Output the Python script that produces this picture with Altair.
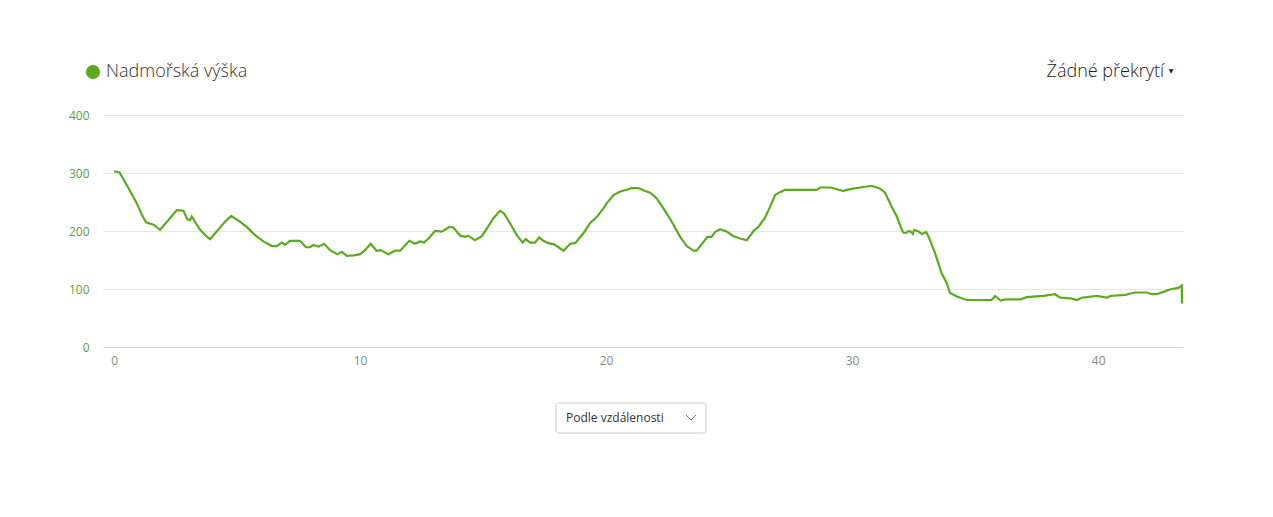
import altair as alt
import pandas as pd

# elevation profile (km, m)
distance_km = [
    0.0, 0.22, 0.52, 0.92, 1.13, 1.30, 1.60, 1.87, 2.21, 2.55, 2.82, 2.98, 3.09, 3.16,
    3.29, 3.50, 3.70, 3.90, 4.17, 4.51, 4.76, 5.12, 5.39, 5.73, 6.07, 6.41, 6.61, 6.82,
    6.95, 7.15, 7.56, 7.80, 7.97, 8.10, 8.31, 8.54, 8.78, 9.08, 9.26, 9.46, 9.75, 10.0,
    10.2, 10.43, 10.67, 10.84, 11.15, 11.42, 11.63, 12.0, 12.24, 12.44, 12.60, 12.78,
    13.05, 13.32, 13.63, 13.79, 14.07, 14.27, 14.40, 14.67, 14.95, 15.15, 15.42, 15.69,
    15.85, 16.10, 16.37, 16.61, 16.73, 16.91, 17.11, 17.28, 17.45, 17.65, 17.89, 18.27,
    18.54, 18.74, 19.08, 19.35, 19.62, 19.89, 20.03, 20.30, 20.57, 20.84, 21.04, 21.31,
    21.59, 21.79, 22.06, 22.33, 22.67, 23.01, 23.28, 23.55, 23.68, 24.12, 24.29, 24.43,
    24.63, 24.90, 25.18, 25.45, 25.72, 25.99, 26.19, 26.46, 26.67, 26.87, 27.07, 27.28,
    28.56, 28.70, 29.11, 29.38, 29.65, 29.78, 30.05, 30.33, 30.80, 31.14, 31.34, 31.61,
    31.82, 32.02, 32.09, 32.22, 32.29, 32.38, 32.47, 32.52, 32.70, 32.83, 33.01, 33.10,
    33.37, 33.64, 33.85, 33.98, 34.26, 34.66, 35.67, 35.81, 36.04, 36.22, 36.83, 37.10,
    37.37, 37.78, 38.25, 38.46, 38.86, 39.13, 39.34, 39.95, 40.35, 40.49, 41.10, 41.50,
    41.98, 42.18, 42.38, 42.65, 42.99, 43.26, 43.40, 43.41,
]
elevation_m = [
    303, 301, 279, 248, 228, 215, 211, 202, 219, 236, 235, 220, 219, 225,
    216, 202, 193, 186, 199, 216, 226, 216, 207, 193, 182, 174, 174, 180,
    176, 183, 183, 172, 172, 176, 173, 178, 167, 160, 164, 157, 158, 160,
    167, 178, 166, 167, 160, 166, 166, 183, 178, 182, 180, 187,
    200, 199, 207, 206, 192, 190, 192, 184, 191, 204, 222, 235,
    230, 213, 193, 180, 186, 180, 180, 189, 183, 179, 177, 166,
    178, 179, 196, 214, 224, 239, 248, 262, 268, 271, 274, 274,
    269, 266, 256, 239, 216, 190, 174, 166, 166, 190, 190, 198,
    203, 199, 191, 187, 184, 200, 207, 223, 242, 262, 267, 271,
    271, 275, 275, 272, 269, 271, 273, 275, 278, 273, 266, 242,
    225, 202, 197, 197, 200, 199, 195, 202, 199, 195, 198, 191,
    162, 127, 110, 93, 87, 81, 81, 88, 80, 82, 82, 86,
    87, 88, 91, 85, 84, 81, 85, 88, 85, 88, 90, 94,
    94, 91, 91, 95, 100, 102, 106, 75,
]
series_name = "Nadmořská výška"
x_ticks = [0, 10, 20, 30, 40]
y_ticks = [0, 100, 200, 300, 400]
overlay_label = "Žádné překrytí"
sort_label = "Podle vzdálenosti"

GREEN = "#5aab1e"
FONT = "Open Sans"

profile = pd.DataFrame(
    {"km": distance_km, "elevation": elevation_m, "series": series_name}
)

line = (
    alt.Chart(profile)
    .mark_line(strokeWidth=2.2, interpolate="linear")
    .encode(
        x=alt.X(
            "km:Q",
            scale=alt.Scale(domain=[-0.45, 43.45], nice=False, zero=False),
            axis=alt.Axis(
                values=x_ticks,
                title=None,
                grid=False,
                ticks=False,
                domainColor="#cfd4d8",
                labelColor="#888888",
                labelFontSize=12,
                labelFont=FONT,
                labelPadding=8,
            ),
        ),
        y=alt.Y(
            "elevation:Q",
            scale=alt.Scale(domain=[0, 400], nice=False),
            axis=alt.Axis(
                values=y_ticks,
                title=None,
                domain=False,
                ticks=False,
                gridColor="#e4e6e8",
                labelColor="#5da232",
                labelFontSize=12,
                labelFont=FONT,
                labelPadding=14,
            ),
        ),
        color=alt.Color(
            "series:N",
            scale=alt.Scale(domain=[series_name], range=[GREEN]),
            legend=alt.Legend(
                title=None,
                orient="none",
                legendX=-19,
                legendY=-52,
                padding=0,
                symbolType="circle",
                symbolSize=200,
                symbolFillColor=GREEN,
                symbolStrokeWidth=0,
                labelFont=FONT,
                labelFontSize=18,
                labelFontWeight=300,
                labelColor="#333333",
                labelOffset=4,
            ),
        ),
    )
)

one_row = pd.DataFrame({"overlay": [overlay_label], "sort": [sort_label]})

# overlay selector, top right
overlay_text = alt.Chart(one_row).mark_text(
    align="right", baseline="alphabetic", font=FONT, fontSize=18, fontWeight=300,
    color="#222222",
).encode(x=alt.value(1061), y=alt.value(-38), text="overlay:N")
overlay_arrow = alt.Chart(one_row).mark_text(
    text="▼", align="center", baseline="middle", font="DejaVu Sans", fontSize=6,
    color="#222222",
).encode(x=alt.value(1068), y=alt.value(-44))

# "Podle vzdálenosti" drop-down under the chart
button = alt.Chart(one_row).mark_rect(
    fill="white", stroke="#cccccc", strokeWidth=1, cornerRadius=3
).encode(x=alt.value(453), x2=alt.value(603), y=alt.value(288), y2=alt.value(318))
button_text = alt.Chart(one_row).mark_text(
    align="left", baseline="middle", font=FONT, fontSize=12, color="#333333"
).encode(x=alt.value(463), y=alt.value(303), text="sort:N")
chevron_left = alt.Chart(one_row).mark_rule(color="#777777", strokeWidth=1).encode(
    x=alt.value(583), y=alt.value(300), x2=alt.value(588), y2=alt.value(305)
)
chevron_right = alt.Chart(one_row).mark_rule(color="#777777", strokeWidth=1).encode(
    x=alt.value(588), y=alt.value(305), x2=alt.value(593), y2=alt.value(300)
)

chart = (
    alt.layer(
        line, overlay_text, overlay_arrow, button, button_text, chevron_left, chevron_right
    )
    .properties(
        width=1080,
        height=232,
        padding={"left": 95, "top": 107, "right": 82, "bottom": 150},
        autosize=alt.AutoSizeParams(type="none"),
    )
    .configure_view(stroke=None)
)

chart.save("out.html", embed_options={"renderer": "svg", "actions": False})
